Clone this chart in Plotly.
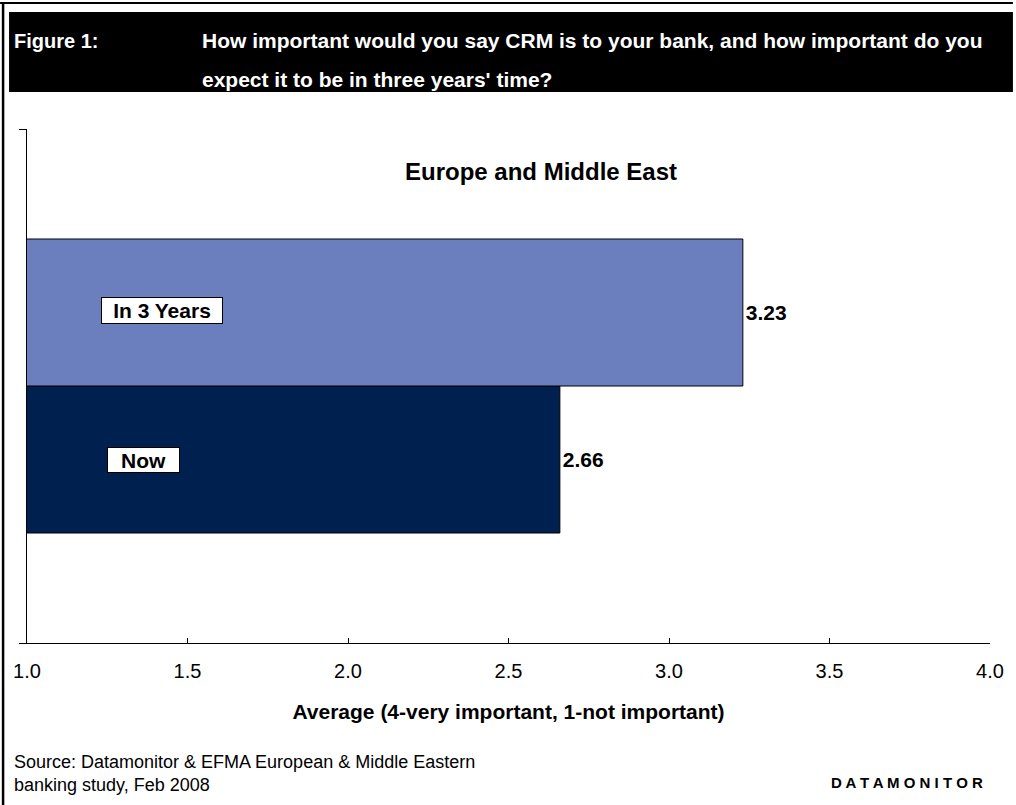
import plotly.graph_objects as go

# Survey results: average importance of CRM (4 = very important, 1 = not important)
series_names = ["Now", "In 3 Years"]
series_values = [2.66, 3.23]
series_colors = ["#002050", "#6B7FBF"]
series_pos = [0, 1]
x_ticks = [1.0, 1.5, 2.0, 2.5, 3.0, 3.5, 4.0]
x_tick_labels = ["1.0", "1.5", "2.0", "2.5", "3.0", "3.5", "4.0"]

W, H = 1016, 805
L, R, T, B = 27, 993, 129, 643
BAR_PX = 147
FONT = "Liberation Sans, Arial, sans-serif"


def px(xp):
    return (xp - L) / (R - L)


def py(yp):
    return (B - yp) / (B - T)


fig = go.Figure()
for name, val, col, pos in zip(series_names, series_values, series_colors, series_pos):
    fig.add_trace(go.Bar(
        y=[pos], x=[val], orientation="h", width=1, name=name,
        marker=dict(color=col, line=dict(color="#000000", width=1)),
        text=[f"{val:.2f}"], textposition="outside", cliponaxis=False,
        textfont=dict(family=FONT, size=21, color="#000000", weight="bold"),
        showlegend=False,
    ))

# Series labels boxed inside the bars
label_style = {
    "In 3 Years": dict(x=1.229, dy=0.017, w=118, h=23),
    "Now": dict(x=1.248, dy=0.0, w=69, h=22),
}
for name, pos in zip(series_names, series_pos):
    s = label_style[name]
    fig.add_annotation(
        x=s["x"], y=pos + s["dy"], xref="x", yref="y", xanchor="left", yanchor="middle",
        text=f"<b>{name}</b>", showarrow=False, width=s["w"], height=s["h"],
        font=dict(family=FONT, size=21, color="#000000"),
        bgcolor="#FFFFFF", bordercolor="#000000", borderwidth=1, borderpad=1,
    )

y_lo = 0.5 - (B - T) / 2 / BAR_PX
y_hi = 0.5 + (B - T) / 2 / BAR_PX

fig.update_layout(
    width=W, height=H,
    margin=dict(l=L, r=W - R, t=T, b=H - B, pad=0),
    paper_bgcolor="#FFFFFF", plot_bgcolor="#FFFFFF",
    barmode="overlay",
    font=dict(family=FONT, color="#000000"),
    xaxis=dict(
        range=[1, 4], tickvals=x_ticks, ticktext=x_tick_labels,
        showgrid=False, zeroline=False, showline=True, linecolor="#000000", linewidth=1,
        ticks="inside", ticklen=5, tickcolor="#000000", ticklabelstandoff=10,
        tickfont=dict(family=FONT, size=20, color="#000000"),
        title=dict(text="<b>Average (4-very important, 1-not important)</b>",
                   font=dict(family=FONT, size=21, color="#000000"), standoff=23),
    ),
    yaxis=dict(
        range=[y_lo, y_hi], tickvals=[y_lo, y_hi], ticktext=["", ""],
        showgrid=False, zeroline=False, showline=True, linecolor="#000000", linewidth=1,
        ticks="outside", ticklen=7, tickcolor="#000000",
    ),
    shapes=[
        # header band
        dict(type="rect", xref="paper", yref="paper", x0=px(9), x1=px(1016), y0=py(12), y1=py(92),
             fillcolor="#000000", line=dict(width=0), layer="below"),
        # frame: top and left rules
        dict(type="line", xref="paper", yref="paper", x0=px(0), x1=px(1016), y0=py(3), y1=py(3),
             line=dict(color="#000000", width=2)),
        dict(type="line", xref="paper", yref="paper", x0=px(3), x1=px(3), y0=py(2), y1=py(805),
             line=dict(color="#000000", width=2.5)),
    ],
)

fig.add_annotation(x=px(12), y=py(41), xref="paper", yref="paper", xanchor="left", yanchor="middle",
                   text="<b>Figure 1:</b>", showarrow=False,
                   font=dict(family=FONT, size=20, color="#FFFFFF"))
fig.add_annotation(x=px(201), y=py(41), xref="paper", yref="paper", xanchor="left", yanchor="middle",
                   text="<b>How important would you say CRM is to your bank, and how important do you</b>",
                   showarrow=False, font=dict(family=FONT, size=21, color="#FFFFFF"))
fig.add_annotation(x=px(201), y=py(80), xref="paper", yref="paper", xanchor="left", yanchor="middle",
                   text="<b>expect it to be in three years' time?</b>",
                   showarrow=False, font=dict(family=FONT, size=21, color="#FFFFFF"))
fig.add_annotation(x=px(543), y=py(171), xref="paper", yref="paper", xanchor="center", yanchor="middle",
                   text="<b>Europe and Middle East</b>", showarrow=False,
                   font=dict(family=FONT, size=24, color="#000000"))

source_text = "Source: Datamonitor & EFMA European & Middle Eastern<br>banking study, Feb 2008"
fig.add_annotation(x=px(12), y=py(773), xref="paper", yref="paper", xanchor="left", yanchor="middle",
                   text=source_text, showarrow=False, align="left",
                   font=dict(family=FONT, size=18, color="#000000"))
fig.add_annotation(x=px(988), y=py(782), xref="paper", yref="paper", xanchor="right", yanchor="middle",
                   text="<b>D A T A M O N I T O R</b>", showarrow=False,
                   font=dict(family=FONT, size=15, color="#000000"))

fig.write_html("out.html")
